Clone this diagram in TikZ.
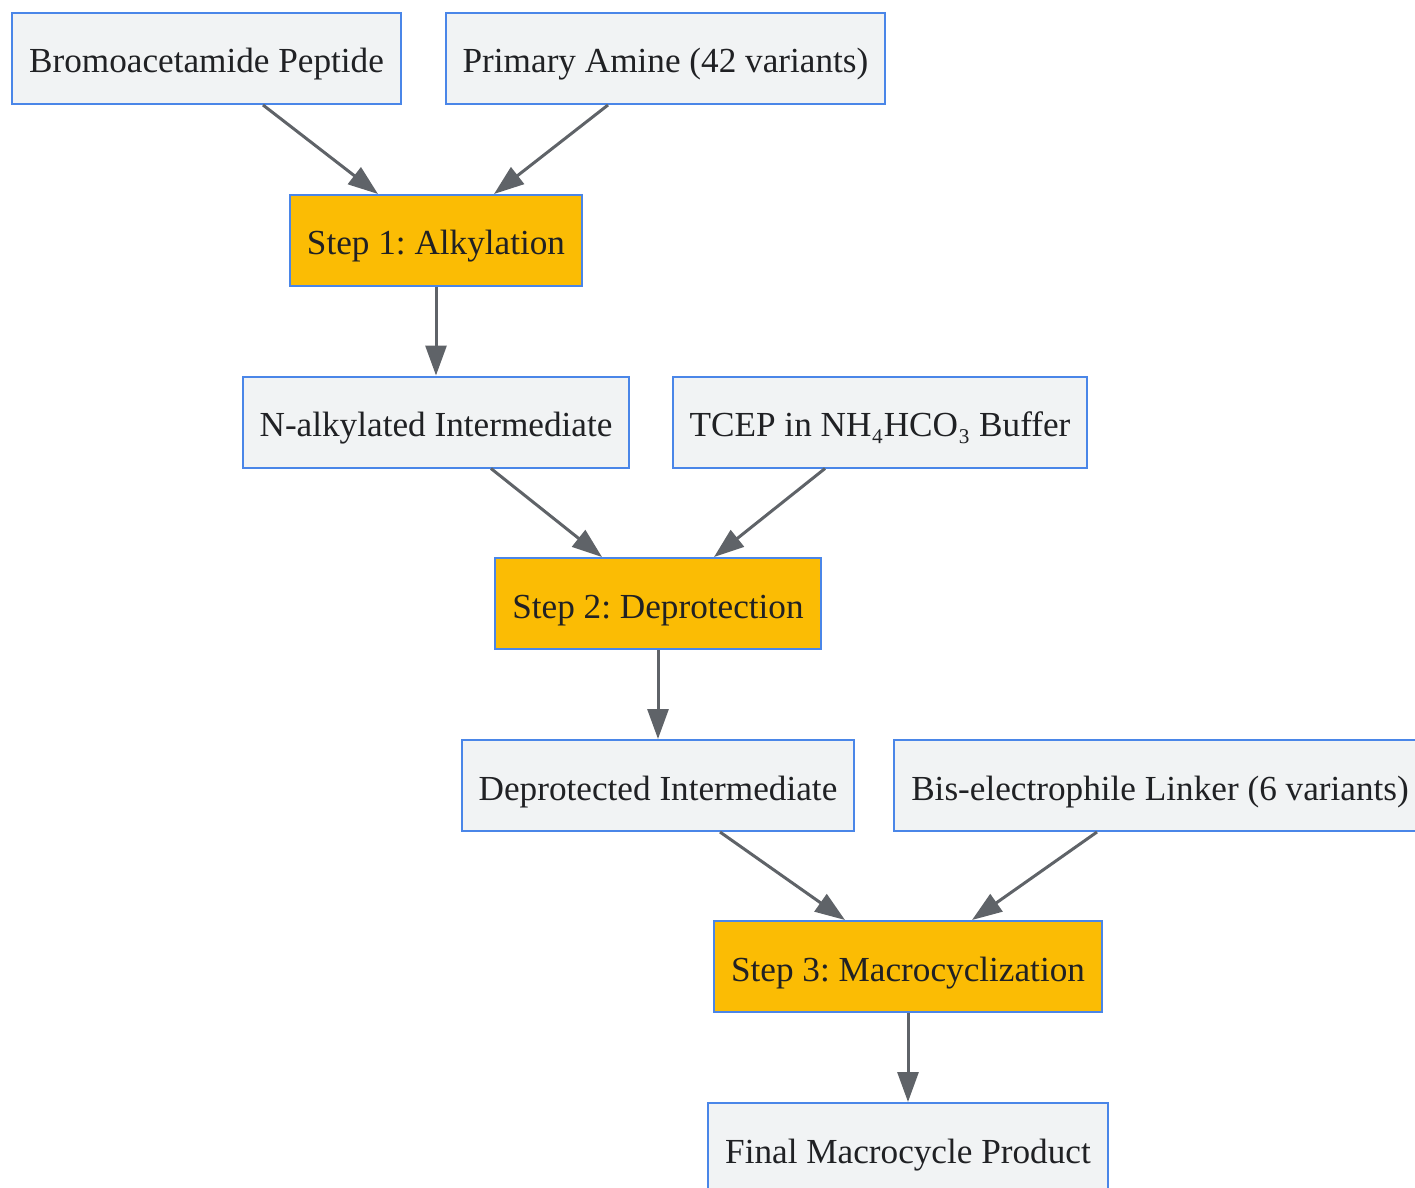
\documentclass[tikz,border=0pt]{standalone}
\usepackage{fontspec}
\setmainfont{Liberation Serif}
\usetikzlibrary{arrows.meta}
\definecolor{boxfill}{HTML}{F1F3F4}
\definecolor{boxline}{HTML}{4A86E8}
\definecolor{stepfill}{HTML}{FBBC04}
\definecolor{arrowgray}{HTML}{5F6368}
\definecolor{textgray}{HTML}{202124}
\tikzset{
  item/.style={draw=boxline, fill=boxfill, line width=1pt, text=textgray,
    inner xsep=8.5pt, minimum height=45.5pt, text height=14.5pt, text depth=0pt,
    font=\fontsize{17.6}{21}\selectfont},
  stepbox/.style={item, fill=stepfill},
  flow/.style={draw=arrowgray, line width=1.5pt, -{Triangle[length=15pt,width=10.5pt]}}
}
\frenchspacing
\begin{document}
\begin{tikzpicture}[x=0.5pt, y=-0.5pt]
\useasboundingbox (0,0) rectangle (1415,1188);
\node[item] (bromo) at (206.5,58.5) {Bromoacetamide Peptide};
\node[item] (amine) at (665.5,58.5) {Primary Amine (42 variants)};
\node[stepbox] (step1) at (436,240.5) {Step 1: Alkylation};
\node[item] (alkyl) at (436,422) {N-alkylated Intermediate};
\node[item] (tcep) at (880,422) {TCEP in NH₄HCO₃ Buffer};
\node[stepbox] (step2) at (658,603.5) {Step 2: Deprotection};
\node[item] (deprot) at (658,785.5) {Deprotected Intermediate};
\node[item] (linker) at (1160,785.5) {Bis-electrophile Linker (6 variants)};
\node[stepbox] (step3) at (908,966.5) {Step 3: Macrocyclization};
\node[item] (final) at (908,1148.5) {Final Macrocycle Product};

\draw[flow] ([xshift=28.25pt]bromo.south) -- ([xshift=-29pt]step1.north);
\draw[flow] ([xshift=-28.75pt]amine.south) -- ([xshift=29pt]step1.north);
\draw[flow] (step1) -- (alkyl);
\draw[flow] ([xshift=27.5pt]alkyl.south) -- ([xshift=-28pt]step2.north);
\draw[flow] ([xshift=-27.5pt]tcep.south) -- ([xshift=28pt]step2.north);
\draw[flow] (step2) -- (deprot);
\draw[flow] ([xshift=31pt]deprot.south) -- ([xshift=-31.5pt]step3.north);
\draw[flow] ([xshift=-31.5pt]linker.south) -- ([xshift=32pt]step3.north);
\draw[flow] (step3) -- (final);
\end{tikzpicture}
\end{document}
